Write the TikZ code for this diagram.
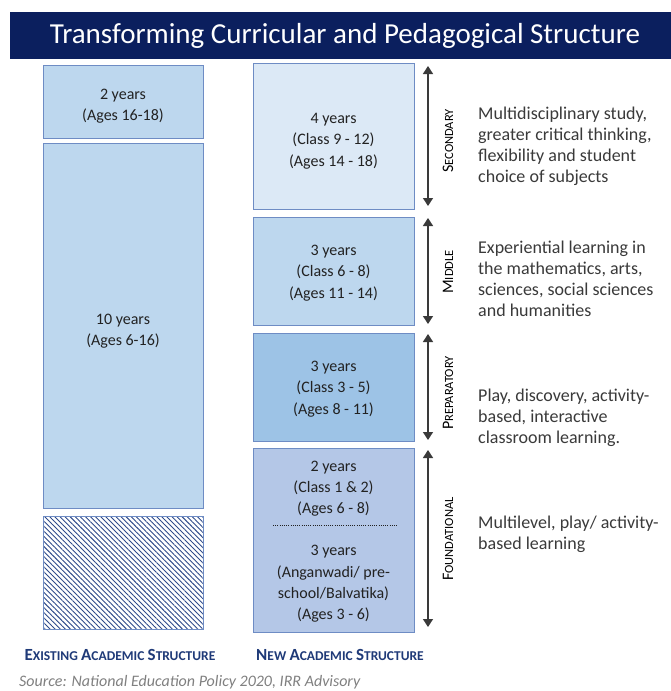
\documentclass[tikz,border=0pt]{standalone}
\usepackage{fontspec}
\setmainfont{Carlito}
\usetikzlibrary{arrows.meta,patterns.meta}
\definecolor{navy}{HTML}{0B1F5E}
\definecolor{bordblue}{HTML}{6E8CC4}
\definecolor{cSec}{HTML}{DCE9F6}
\definecolor{cMid}{HTML}{BDD7EE}
\definecolor{cPrep}{HTML}{9DC3E6}
\definecolor{cFound}{HTML}{B4C7E7}
\definecolor{cOld}{HTML}{BDD7EE}
\definecolor{hatch}{HTML}{2F4A8A}
\definecolor{txt}{HTML}{222222}
\definecolor{rtxt}{HTML}{3A3A3A}
\definecolor{lblblue}{HTML}{1F3A78}
\newcommand\Bg[1]{{\fontsize{17}{17}\selectfont #1}}
\newcommand\Sm[1]{{\fontsize{13.5}{13.5}\selectfont #1}}
\newcommand\Vb[1]{{\fontsize{16}{16}\selectfont #1}}
\newcommand\Vs[1]{{\fontsize{12.5}{12.5}\selectfont #1}}
\tikzset{
  box/.style={draw=bordblue, line width=0.9pt, inner sep=0pt, anchor=north west},
  boxtext/.style={align=center, text=txt, font=\fontsize{16}{21.3}\selectfont, inner sep=0pt},
  desc/.style={align=left, text=rtxt, font=\fontsize{18}{21}\selectfont, anchor=west, inner sep=0pt},
  stage/.style={rotate=90, text=black, inner sep=0pt},
  span/.style={{Triangle[length=8pt,width=10pt]}-{Triangle[length=8pt,width=10pt]}, line width=1.3pt, draw=rtxt},
  foot/.style={text=lblblue, font=\bfseries, inner sep=0pt}
}
\begin{document}
\begin{tikzpicture}[x=1pt,y=-1pt]
\useasboundingbox (0,0) rectangle (671,691);
\fill[white] (0,0) rectangle (671,691);
% title
\node[fill=navy, minimum width=661pt, minimum height=47pt, anchor=north west, inner sep=0pt] (title) at (10,12) {};
\node[text=white, font=\fontsize{29}{29}\selectfont, inner sep=0pt] (titletext) at (345,36) {Transforming Curricular and Pedagogical Structure};
% existing structure
\node[box, fill=cOld, minimum width=160pt, minimum height=73pt] (old1) at (43,65) {};
\node[boxtext] (old1t) at (123,106) {2 years\\(Ages 16-18)};
\node[box, fill=cOld, minimum width=160pt, minimum height=365pt] (old2) at (43,143) {};
\node[boxtext] (old2t) at (123,331) {10 years\\(Ages 6-16)};
\node[box, fill=white, minimum width=160pt, minimum height=113pt] (old3) at (43,516) {};
\fill[pattern={Lines[angle=-45, distance=3.6pt, line width=0.9pt]}, pattern color=hatch] (old3.north west) rectangle (old3.south east);
\draw[draw=bordblue, line width=0.9pt] (old3.north west) rectangle (old3.south east);
% new structure
\node[box, fill=cSec, minimum width=161pt, minimum height=146pt] (sec) at (253,63) {};
\node[boxtext] (sect) at (333.5,141) {4 years\\(Class 9 - 12)\\(Ages 14 - 18)};
\node[box, fill=cMid, minimum width=161pt, minimum height=108pt] (mid) at (253,217) {};
\node[boxtext] (midt) at (333.5,273) {3 years\\(Class 6 - 8)\\(Ages 11 - 14)};
\node[box, fill=cPrep, minimum width=161pt, minimum height=108pt] (prep) at (253,333) {};
\node[boxtext] (prept) at (333.5,389) {3 years\\(Class 3 - 5)\\(Ages 8 - 11)};
\node[box, fill=cFound, minimum width=161pt, minimum height=184pt] (found) at (253,448) {};
\node[boxtext] (foundt1) at (333.5,488.5) {2 years\\(Class 1 \& 2)\\(Ages 6 - 8)};
\coordinate (dotl) at (273,525);
\coordinate (dotr) at (398,525);
\draw[txt, line width=1pt, dash pattern=on 1pt off 1.2pt] (dotl) -- (dotr);
\node[boxtext] (foundt2) at (333.5,584) {3 years\\(Anganwadi/ pre-\\school/Balvatika)\\(Ages 3 - 6)};
% span arrows
\coordinate (a1t) at (428,66);  \coordinate (a1b) at (428,206);
\coordinate (a2t) at (428,218); \coordinate (a2b) at (428,324);
\coordinate (a3t) at (428,334); \coordinate (a3b) at (428,440);
\coordinate (a4t) at (428,450); \coordinate (a4b) at (428,627);
\draw[span] (a1t) -- (a1b);
\draw[span] (a2t) -- (a2b);
\draw[span] (a3t) -- (a3b);
\draw[span] (a4t) -- (a4b);
% stage labels
\node[stage] (lsec) at (448,141) {\Vb{S}\Vs{ECONDARY}};
\node[stage] (lmid) at (448,272) {\Vb{M}\Vs{IDDLE}};
\node[stage] (lprep) at (448,393) {\Vb{P}\Vs{REPARATORY}};
\node[stage] (lfound) at (448,539) {\Vb{F}\Vs{OUNDATIONAL}};
% descriptions
\node[desc] (dsec) at (478,146.5) {Multidisciplinary study,\\greater critical thinking,\\flexibility and student\\choice of subjects};
\node[desc] (dmid) at (478,278.5) {Experiential learning in\\the mathematics, arts,\\sciences, social sciences\\and humanities};
\node[desc] (dprep) at (478,418) {Play, discovery, activity-\\based, interactive\\classroom learning.};
\node[desc] (dfound) at (478,534) {Multilevel, play/ activity-\\based learning};
% footers
\node[foot] (fold) at (120,655) {\Bg{E}\Sm{XISTING}\hspace{1pt} \Bg{A}\Sm{CADEMIC}\hspace{1pt} \Bg{S}\Sm{TRUCTURE}};
\node[foot] (fnew) at (340,655) {\Bg{N}\Sm{EW}\hspace{1pt} \Bg{A}\Sm{CADEMIC}\hspace{1pt} \Bg{S}\Sm{TRUCTURE}};
\node[text=gray, font=\itshape\fontsize{16}{16}\selectfont, anchor=west, inner sep=0pt] (src) at (19,682) {Source: National Education Policy 2020, IRR Advisory};
\end{tikzpicture}
\end{document}
